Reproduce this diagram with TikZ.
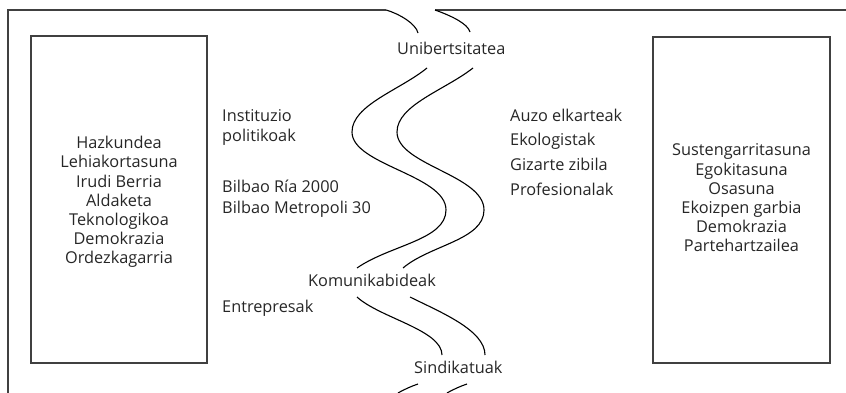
\documentclass[tikz,border=0pt]{standalone}
\usepackage{fontspec}
\setmainfont{Open Sans}
\begin{document}
\begin{tikzpicture}[x=1pt,y=-1pt,
  frame/.style={line width=1.3pt,draw=black!75},
  river/.style={line width=1.1pt,draw=black},
  lbl/.style={font=\fontsize{16.3}{19}\selectfont,inner sep=0pt,text=black!85},
  boxtext/.style={font=\fontsize{16.3}{19.2}\selectfont,inner sep=0pt,align=center,text=black!85}]
\useasboundingbox (0,0) rectangle (846,393);
% outer frame with river banks at the top
\draw[frame] (8,393) -- (8,10) -- (386,10);
\draw[river] (386,10) .. controls (400,14) and (416,24) .. (418,33);
\draw[frame] (435,10) -- (846,10);
\draw[river] (435,10) .. controls (452,16) and (468,24) .. (470,32);
% boxes
\draw[frame] (31,36) rectangle (207,363);
\draw[frame] (653,37) rectangle (830,363);
% middle river
\draw[river] (427,68) .. controls (400,90) and (352,105) .. (352,132)
  .. controls (352,165) and (446,175) .. (446,210)
  .. controls (446,240) and (390,245) .. (357,268);
\draw[river] (473,68) .. controls (445,90) and (397,105) .. (397,132)
  .. controls (397,165) and (484,175) .. (484,210)
  .. controls (484,240) and (430,245) .. (403,268);
\draw[river] (357,297) .. controls (380,318) and (442,330) .. (442,355);
\draw[river] (410,297) .. controls (440,312) and (485,330) .. (485,355);
\draw[river] (398,393) .. controls (405,389) and (412,386) .. (418,384);
\draw[river] (447,393) .. controls (454,389) and (461,386) .. (467,384);
% labels
\node[lbl,anchor=base west] (uni) at (397,55) {Unibertsitatea};
\node[lbl,anchor=base west] (kom) at (308,286) {Komunikabideak};
\node[lbl,anchor=base west] (sin) at (414,373) {Sindikatuak};
\node[lbl,anchor=base west] (ins1) at (222,122) {Instituzio};
\node[lbl,anchor=base west] (ins2) at (222,142) {politikoak};
\node[lbl,anchor=base west] (bil1) at (222,193) {Bilbao Ría 2000};
\node[lbl,anchor=base west] (bil2) at (222,213) {Bilbao Metropoli 30};
\node[lbl,anchor=base west] (ent) at (222,312) {Entrepresak};
\node[lbl,anchor=base west] (auz) at (510,122) {Auzo elkarteak};
\node[lbl,anchor=base west] (eko) at (510,146) {Ekologistak};
\node[lbl,anchor=base west] (giz) at (510,171) {Gizarte zibila};
\node[lbl,anchor=base west] (pro) at (510,195) {Profesionalak};
\node[boxtext,anchor=center] (left) at (119,202) {Hazkundea\\Lehiakortasuna\\Irudi Berria\\Aldaketa\\Teknologikoa\\Demokrazia\\Ordezkagarria};
\node[boxtext,anchor=center] (right) at (741.5,198) {Sustengarritasuna\\Egokitasuna\\Osasuna\\Ekoizpen garbia\\Demokrazia\\Partehartzailea};
\end{tikzpicture}
\end{document}
